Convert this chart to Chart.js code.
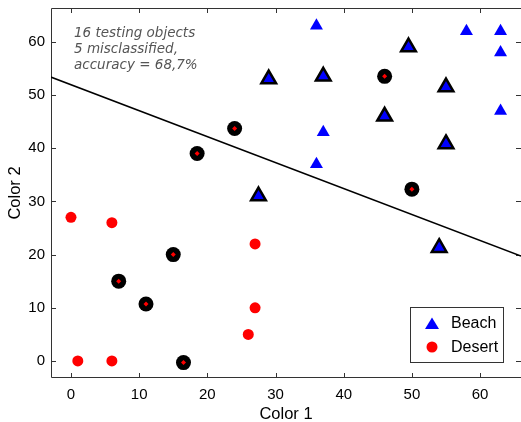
<!DOCTYPE html>
<html>
<head>
<meta charset="utf-8">
<script src="https://cdn.jsdelivr.net/npm/chart.js@4"></script>
<style>
  html, body { margin: 0; padding: 0; background: #fff; overflow: hidden; }
  #wrap { width: 521px; height: 422px; }
</style>
</head>
<body>
<div id="wrap"><canvas id="chart" width="521" height="422"></canvas></div>
<script>
// axis ticks
const xTicks = [0, 10, 20, 30, 40, 50, 60];
const yTicks = [0, 10, 20, 30, 40, 50, 60];

// training objects
const beachX = [36, 58, 63, 63, 63, 37, 36];
const beachY = [63, 62, 62, 58, 47, 43, 37];
const desertX = [0, 6, 1, 6, 27, 27, 26];
const desertY = [27, 26, 0, 0, 22, 10, 5];

// testing objects (circled in black)
const beachTestX = [29, 37, 49.5, 55, 46, 55, 27.5, 54];
const beachTestY = [53, 53.5, 59, 51.5, 46, 40.8, 31, 21.3];
const desertTestX = [18.5, 24, 46, 50, 15, 7, 11, 16.5];
const desertTestY = [39, 43.7, 53.5, 32.3, 20, 15, 10.7, -0.3];

// decision boundary end points
const boundaryX = [-3, 66];
const boundaryY = [53.4, 19.7];

const noteLines = ['16 testing objects', '5 misclassified,', 'accuracy = 68,7%'];

const toPts = (xs, ys) => xs.map((v, i) => ({x: v, y: ys[i]}));

const BLUE = '#0000ff';
const RED = '#ff0000';
const AXIS = '#333';
const tickFont = {family: 'Liberation Sans', size: 15};
const titleFont = {family: 'Liberation Sans', size: 16.5};

// scale paddings would shrink the plot, drop them
const noPad = s => { s.paddingTop = 0; s.paddingBottom = 0; s.paddingLeft = 0; s.paddingRight = 0; };

// box, inward ticks, note and legend
const frame = {
  id: 'frame',
  beforeDatasetsDraw(chart) {
    const {ctx, chartArea: a, scales: {x, y}} = chart;
    ctx.save();
    ctx.strokeStyle = AXIS;
    ctx.lineWidth = 1;
    ctx.beginPath();
    ctx.moveTo(a.right, a.top + 0.5);
    ctx.lineTo(a.left + 0.5, a.top + 0.5);
    ctx.lineTo(a.left + 0.5, a.bottom - 0.5);
    ctx.lineTo(a.right, a.bottom - 0.5);
    xTicks.forEach(t => {
      const px = Math.round(x.getPixelForValue(t)) + 0.5;
      ctx.moveTo(px, a.top); ctx.lineTo(px, a.top + 5);
      ctx.moveTo(px, a.bottom); ctx.lineTo(px, a.bottom - 5);
    });
    yTicks.forEach(t => {
      const py = Math.round(y.getPixelForValue(t)) + 0.5;
      ctx.moveTo(a.left, py); ctx.lineTo(a.left + 5, py);
      ctx.moveTo(a.right, py); ctx.lineTo(a.right - 5, py);
    });
    ctx.stroke();
    ctx.restore();
  },
  afterDraw(chart) {
    const {ctx} = chart;
    ctx.save();
    // note text
    ctx.fillStyle = '#555';
    ctx.font = 'italic 13.5px "DejaVu Sans"';
    ctx.textBaseline = 'middle';
    noteLines.forEach((s, i) => ctx.fillText(s, 74, 33 + i * 16));

    // legend
    ctx.fillStyle = '#fff';
    ctx.fillRect(410, 307, 94, 56);
    ctx.strokeStyle = AXIS;
    ctx.lineWidth = 1;
    ctx.strokeRect(410.5, 307.5, 93, 55);
    ctx.fillStyle = BLUE;
    ctx.beginPath();
    ctx.moveTo(432, 317.5);
    ctx.lineTo(439, 329);
    ctx.lineTo(425, 329);
    ctx.closePath();
    ctx.fill();
    ctx.fillStyle = RED;
    ctx.beginPath();
    ctx.arc(432, 347, 5.5, 0, Math.PI * 2);
    ctx.fill();
    ctx.fillStyle = '#000';
    ctx.font = '16px "Liberation Sans"';
    ctx.fillText('Beach', 451, 324);
    ctx.fillText('Desert', 451, 348);
    ctx.restore();
  }
};

new Chart(document.getElementById('chart'), {
  type: 'scatter',
  data: {
    datasets: [
      {
        label: 'boundary',
        type: 'line',
        data: toPts(boundaryX, boundaryY),
        borderColor: '#000',
        borderWidth: 1.5,
        pointRadius: 0,
        fill: false,
        order: 5
      },
      {
        label: 'Beach',
        data: toPts(beachX, beachY),
        pointStyle: 'triangle',
        pointRadius: 7.5,
        backgroundColor: BLUE,
        borderColor: BLUE,
        borderWidth: 0,
        order: 4
      },
      {
        label: 'Desert',
        data: toPts(desertX, desertY),
        pointStyle: 'circle',
        pointRadius: 5.5,
        backgroundColor: RED,
        borderColor: RED,
        borderWidth: 0,
        order: 4
      },
      {
        label: 'Beach test',
        data: toPts(beachTestX, beachTestY),
        pointStyle: 'triangle',
        pointRadius: 8.5,
        backgroundColor: BLUE,
        borderColor: '#000',
        borderWidth: 2.5,
        order: 3
      },
      {
        label: 'Desert test',
        data: toPts(desertTestX, desertTestY),
        pointStyle: 'circle',
        pointRadius: 7.5,
        backgroundColor: '#000',
        borderColor: '#000',
        borderWidth: 0,
        order: 2
      },
      {
        label: 'Desert test centre',
        data: toPts(desertTestX, desertTestY),
        pointStyle: 'rectRot',
        pointRadius: 2.5,
        backgroundColor: RED,
        borderColor: RED,
        borderWidth: 0,
        order: 1
      }
    ]
  },
  options: {
    responsive: false,
    animation: false,
    layout: {autoPadding: false, padding: {top: 8, left: 0, right: 0, bottom: 0}},
    plugins: {legend: {display: false}, tooltip: {enabled: false}},
    scales: {
      x: {
        type: 'linear',
        min: -2.93,
        max: 66,
        afterBuildTicks: s => { s.ticks = xTicks.map(v => ({value: v})); },
        afterFit: s => { s.height = 44; noPad(s); },
        grid: {display: false, drawTicks: false},
        border: {display: false},
        ticks: {font: tickFont, color: '#000', padding: 8, maxRotation: 0},
        title: {display: true, text: 'Color 1', font: titleFont, color: '#000', padding: {top: 0, bottom: -2}}
      },
      y: {
        type: 'linear',
        min: -3.2,
        max: 66.35,
        afterBuildTicks: s => { s.ticks = yTicks.map(v => ({value: v})); },
        afterFit: s => { s.width = 51; noPad(s); },
        grid: {display: false, drawTicks: false},
        border: {display: false},
        ticks: {font: tickFont, color: '#000', padding: 6},
        title: {display: true, text: 'Color 2', font: titleFont, color: '#000', padding: {top: 6, bottom: 0}}
      }
    }
  },
  plugins: [frame]
});
</script>
</body>
</html>
